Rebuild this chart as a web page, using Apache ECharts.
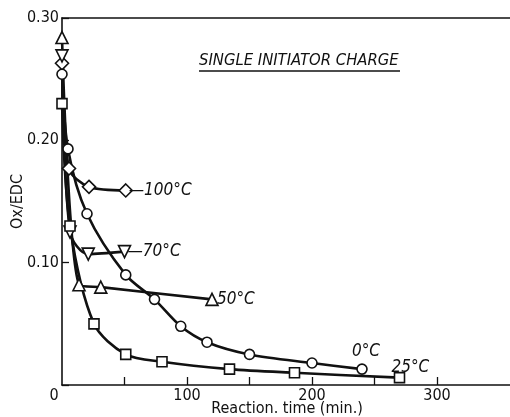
<!DOCTYPE html>
<html>
<head>
<meta charset="utf-8">
<script src="https://cdn.jsdelivr.net/npm/echarts@6/dist/echarts.min.js"></script>
<style>html,body{margin:0;padding:0;background:#fff}#c{width:510px;height:417px}</style>
</head>
<body>
<div id="c"></div>
<script>
// Reaction time (min) and Ox/EDC for each temperature series
const t100 = [0, 5.6, 21.6, 51];
const v100 = [0.263, 0.177, 0.162, 0.159];
const t70 = [0, 6.4, 21, 50];
const v70 = [0.269, 0.125, 0.107, 0.109];
const t50 = [0, 13.6, 31, 120];
const v50 = [0.284, 0.082, 0.080, 0.070];
const t0 = [0, 4.8, 20, 51, 74, 95, 116, 150, 200, 240];
const v0 = [0.254, 0.193, 0.140, 0.090, 0.070, 0.048, 0.035, 0.025, 0.018, 0.013];
const t25 = [0, 6.4, 25.6, 51, 80, 134, 186, 270];
const v25 = [0.230, 0.130, 0.050, 0.025, 0.019, 0.013, 0.010, 0.006];
const labels = ['100°C', '70°C', '50°C', '0°C', '25°C'];
const xTickMarks = [50, 100, 150, 200, 250, 300];
const xTicks = [0, 100, 200, 300];
const yTicks = [0.10, 0.20, 0.30];
const titleText = 'SINGLE INITIATOR CHARGE';

const FONT = "'Liberation Sans Narrow','DejaVu Sans Condensed','Liberation Sans',sans-serif";
const pairs = (t, v) => t.map((x, i) => [x, v[i]]);

function mk(name, t, v, symbol, size, rot, endOpt) {
  return {
    name, type: 'line', data: pairs(t, v), smooth: 0.3,
    symbol, symbolSize: size, symbolRotate: rot || 0, showAllSymbol: true,
    lineStyle: { color: '#111', width: 2.6 },
    itemStyle: { color: '#fff', borderColor: '#111', borderWidth: 1.6 },
    endLabel: Object.assign({
      show: true, formatter: name, fontFamily: FONT, fontStyle: 'italic',
      fontSize: 17, color: '#111'
    }, endOpt || {}),
    z: 3
  };
}

const chart = echarts.init(document.getElementById('c'), null, { renderer: 'canvas' });
chart.setOption({
  animation: false,
  backgroundColor: '#fff',
  textStyle: { fontFamily: FONT },
  grid: { left: 62, top: 18, right: -2, bottom: 32, outerBoundsMode: 'none', containLabel: false },
  xAxis: [{
    type: 'value', min: 0, max: 360, interval: 50,
    name: 'Reaction. time (min.)', nameLocation: 'middle', nameGap: 16, nameMoveOverlap: false,
    nameTextStyle: { fontFamily: FONT, fontSize: 16, color: '#111' },
    axisLine: { lineStyle: { color: '#111', width: 1.6 } },
    axisTick: { inside: true, length: 8, lineStyle: { color: '#111', width: 1.3 }, customValues: xTickMarks },
    axisLabel: {
      fontSize: 16, color: '#111', margin: 3, customValues: xTicks,
      formatter: v => v === 0 ? '{z|0}' : String(v),
      rich: { z: { fontSize: 16, color: '#111', padding: [0, 16, 0, 0] } }
    },
    splitLine: { show: false }
  }, {
    type: 'value', min: 0, max: 360, position: 'top',
    axisLine: { show: true, lineStyle: { color: '#111', width: 1.6 } },
    axisTick: { show: false }, axisLabel: { show: false }, splitLine: { show: false }
  }],
  yAxis: {
    type: 'value', min: 0, max: 0.3, interval: 0.1,
    name: 'Ox/EDC', nameLocation: 'middle', nameGap: 36, nameMoveOverlap: false,
    nameTextStyle: { fontFamily: FONT, fontSize: 16, color: '#111' },
    axisLine: { lineStyle: { color: '#111', width: 1.6 } },
    axisTick: { inside: true, length: 7, lineStyle: { color: '#111', width: 1.3 } },
    axisLabel: {
      fontSize: 16, color: '#111', margin: 3,
      formatter: v => { const f = yTicks.find(y => Math.abs(y - v) < 1e-6); return f ? f.toFixed(2) : ''; }
    },
    splitLine: { show: false }
  },
  graphic: [
    { type: 'text', left: 199, top: 52, style: { text: titleText, font: 'italic 16.5px ' + FONT, fill: '#111' } },
    { type: 'line', shape: { x1: 199, y1: 71, x2: 400, y2: 71 }, style: { stroke: '#111', lineWidth: 1.4 } }
  ],
  series: [
    mk(labels[0], t100, v100, 'diamond', 13, 0, { formatter: '—' + labels[0], distance: 3 }),
    mk(labels[1], t70, v70, 'triangle', 12, 180, { formatter: '—' + labels[1], distance: 3 }),
    mk(labels[2], t50, v50, 'triangle', 12, 0, { distance: 5 }),
    mk(labels[3], t0, v0, 'circle', 10, 0, { offset: [-18, -18] }),
    mk(labels[4], t25, v25, 'rect', 10, 0, { offset: [-16, -10] })
  ]
});
</script>
</body>
</html>
